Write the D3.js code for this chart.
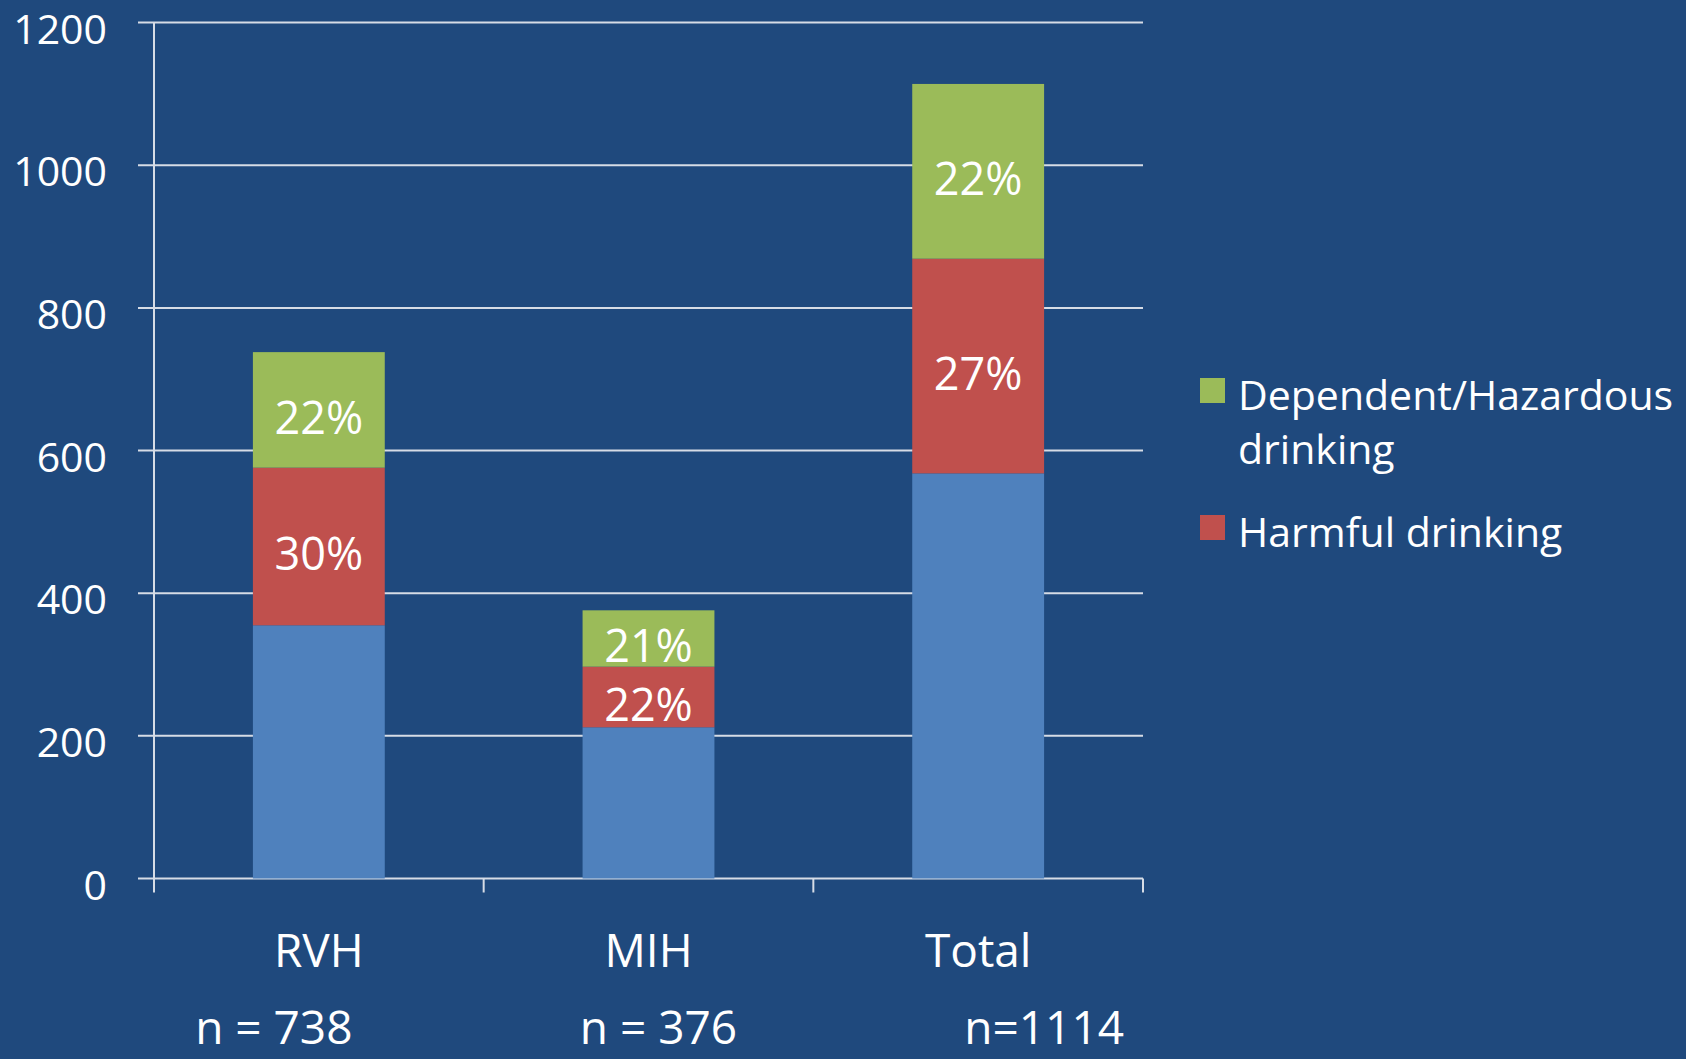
<!DOCTYPE html>
<html>
<head>
<meta charset="utf-8">
<script src="https://cdn.jsdelivr.net/npm/d3@7"></script>
<style>
  html, body { margin: 0; padding: 0; background: #1F497D; }
  svg { display: block; font-family: "Open Sans", sans-serif; }
</style>
</head>
<body>
<div id="chart"></div>
<script>
// Chart values
var categories = ["RVH", "MIH", "Total"];
var baseCounts = [355, 212, 568];
var harmfulCounts = [221, 85, 301];
var dependentCounts = [162, 79, 245];
var harmfulPct = ["30%", "22%", "27%"];
var dependentPct = ["22%", "21%", "22%"];
var sampleLabels = ["n = 738", "n = 376", "n=1114"];
var yTicks = [0, 200, 400, 600, 800, 1000, 1200];
var legendNames = [["Dependent/Hazardous", "drinking"], ["Harmful drinking"]];

// Define SVG area dimensions
var svgWidth = 1686;
var svgHeight = 1059;

var chartMargin = { top: 22.6, left: 154 };
var chartWidth = 989;
var chartHeight = 855.9;

var colors = { base: "#4F81BD", harmful: "#C0504D", dependent: "#9BBB59" };
var lineColor = "#D6DCE6";

var svg = d3.select("#chart")
  .append("svg")
  .attr("width", svgWidth)
  .attr("height", svgHeight);

svg.append("rect")
  .attr("width", svgWidth)
  .attr("height", svgHeight)
  .attr("fill", "#1F497D");

var chartGroup = svg.append("g")
  .attr("transform", `translate(${chartMargin.left}, ${chartMargin.top})`);

// scales
var xBandScale = d3.scaleBand()
  .domain(categories)
  .range([0, chartWidth])
  .paddingInner(0.6)
  .paddingOuter(0.3);

var yLinearScale = d3.scaleLinear()
  .domain([0, 1200])
  .range([chartHeight, 0]);

// gridlines (extend 16px left of the axis like tick marks)
chartGroup.append("g")
  .selectAll("line")
  .data(yTicks)
  .enter()
  .append("line")
  .attr("x1", -16)
  .attr("x2", chartWidth)
  .attr("y1", d => yLinearScale(d))
  .attr("y2", d => yLinearScale(d))
  .attr("stroke", lineColor)
  .attr("stroke-width", 2);

// stacked data
var table = categories.map(function(c, i) {
  return { cat: c, base: baseCounts[i], harmful: harmfulCounts[i], dependent: dependentCounts[i] };
});
var keys = ["base", "harmful", "dependent"];
var stacked = d3.stack().keys(keys)(table);

var layers = chartGroup.selectAll(".layer")
  .data(stacked)
  .enter()
  .append("g")
  .attr("class", "layer")
  .attr("fill", d => colors[d.key]);

layers.selectAll("rect")
  .data(d => d)
  .enter()
  .append("rect")
  .attr("x", d => xBandScale(d.data.cat))
  .attr("width", xBandScale.bandwidth())
  .attr("y", d => yLinearScale(d[1]))
  .attr("height", d => yLinearScale(d[0]) - yLinearScale(d[1]));

// percentage labels on harmful and dependent segments
var pctByKey = { harmful: harmfulPct, dependent: dependentPct };
stacked.filter(s => pctByKey[s.key]).forEach(function(s) {
  chartGroup.append("g")
    .selectAll("text")
    .data(s)
    .enter()
    .append("text")
    .attr("x", d => xBandScale(d.data.cat) + xBandScale.bandwidth() / 2)
    .attr("y", d => (yLinearScale(d[0]) + yLinearScale(d[1])) / 2 + 24)
    .attr("text-anchor", "middle")
    .attr("fill", "#fff")
    .attr("font-size", 45)
    .text((d, i) => pctByKey[s.key][i]);
});

// left axis labels
var leftAxis = d3.axisLeft(yLinearScale)
  .tickValues(yTicks)
  .tickFormat(d3.format("d"))
  .tickSize(0)
  .tickPadding(47);

var yAxisGroup = chartGroup.append("g").call(leftAxis);
yAxisGroup.select(".domain").remove();
yAxisGroup.selectAll("text")
  .attr("dy", null)
  .attr("y", 20.5)
  .attr("fill", "#fff")
  .attr("font-size", 41)
  .attr("font-family", "Open Sans, sans-serif");

// axis line (runs down past the baseline as the first category tick)
chartGroup.append("line")
  .attr("x1", 0).attr("x2", 0)
  .attr("y1", 0).attr("y2", chartHeight + 14)
  .attr("stroke", lineColor)
  .attr("stroke-width", 2);

// category boundary ticks
var step = xBandScale.step();
chartGroup.append("g")
  .selectAll("line")
  .data(categories)
  .enter()
  .append("line")
  .attr("x1", d => xBandScale(d) - step * xBandScale.paddingOuter() + step)
  .attr("x2", d => xBandScale(d) - step * xBandScale.paddingOuter() + step)
  .attr("y1", chartHeight)
  .attr("y2", chartHeight + 14)
  .attr("stroke", lineColor)
  .attr("stroke-width", 2);

// bottom axis labels
var bottomAxis = d3.axisBottom(xBandScale).tickSize(0);
var xAxisGroup = chartGroup.append("g")
  .attr("transform", `translate(0, ${chartHeight})`)
  .call(bottomAxis);
xAxisGroup.select(".domain").remove();
xAxisGroup.selectAll("text")
  .attr("dy", null)
  .attr("y", 88.5)
  .attr("fill", "#fff")
  .attr("font-size", 46)
  .attr("font-family", "Open Sans, sans-serif");

// sample size line below
var nOffsets = [-45, 10, 66];
chartGroup.append("g")
  .selectAll("text")
  .data(sampleLabels)
  .enter()
  .append("text")
  .attr("x", (d, i) => xBandScale(categories[i]) + xBandScale.bandwidth() / 2 + nOffsets[i])
  .attr("y", chartHeight + 166)
  .attr("text-anchor", "middle")
  .attr("fill", "#fff")
  .attr("font-size", 46)
  .text(d => d);

// legend
var legendKeys = ["dependent", "harmful"];
var legend = svg.append("g")
  .attr("transform", "translate(1200, 378)");

var legendRows = [0, 137];
legendKeys.forEach(function(k, i) {
  var row = legend.append("g").attr("transform", `translate(0, ${legendRows[i]})`);
  row.append("rect")
    .attr("width", 25)
    .attr("height", 25)
    .attr("fill", colors[k]);
  row.selectAll("text")
    .data(legendNames[i])
    .enter()
    .append("text")
    .attr("x", 38)
    .attr("y", (d, j) => 32 + j * 54)
    .attr("fill", "#fff")
    .attr("font-size", 41)
    .text(d => d);
});
</script>
</body>
</html>
